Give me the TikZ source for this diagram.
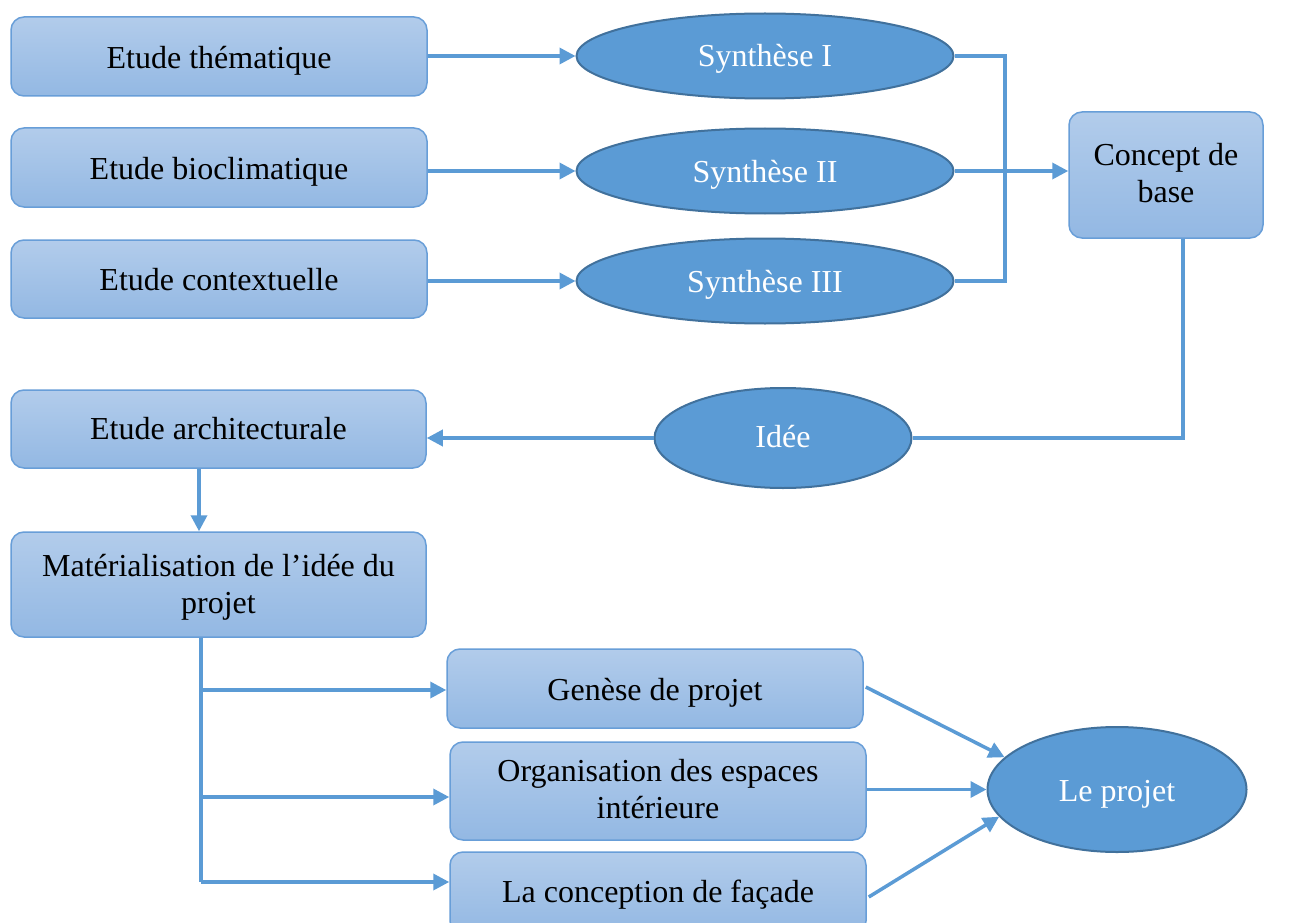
\documentclass[tikz,border=0pt]{standalone}
\usepackage{fontspec}
\setmainfont{Liberation Serif}
\usetikzlibrary{shapes.geometric,arrows.meta,calc}
\definecolor{boxtop}{RGB}{178,204,235}
\definecolor{boxbot}{RGB}{147,184,227}
\definecolor{boxline}{RGB}{104,158,216}
\definecolor{ellfill}{RGB}{91,155,213}
\definecolor{ellline}{RGB}{65,113,156}
\definecolor{conn}{RGB}{91,155,213}
\newcommand\Tx[2][4pt]{\raisebox{-#1}[\height][\depth]{\begin{tabular}{@{}c@{}}#2\end{tabular}}}
\tikzset{
  every node/.style={font=\fontsize{32}{37}\selectfont},
  rbox/.style={draw=boxline, line width=1.5pt, rounded corners=13pt, top color=boxtop, bottom color=boxbot, inner sep=0pt, text=black},
  ell/.style={ellipse, draw=ellline, line width=2pt, fill=ellfill, text=white, inner sep=0pt},
  conline/.style={draw=conn, line width=3.5pt},
  arr/.style={conline, -{Triangle[length=16pt,width=16pt]}},
}
\begin{document}
\begin{tikzpicture}[x=1pt,y=-1pt]
\clip (0,0) rectangle (1296,923);
\fill[white] (0,0) rectangle (1296,923);
% left column
\node[rbox, minimum width=416pt, minimum height=79pt] (b1) at (219,56.5) {\Tx[5pt]{Etude thématique}};
\node[rbox, minimum width=416pt, minimum height=79pt] (b2) at (219,167.5) {\Tx[5pt]{Etude bioclimatique}};
\node[rbox, minimum width=416pt, minimum height=78pt] (b3) at (219,279) {\Tx[4pt]{Etude contextuelle}};
% syntheses
\node[ell, minimum width=377pt, minimum height=85pt] (s1) at (765,56) {\Tx[3pt]{Synthèse I}};
\node[ell, minimum width=377pt, minimum height=85pt] (s2) at (765,171) {\Tx[4pt]{Synthèse II}};
\node[ell, minimum width=377pt, minimum height=85pt] (s3) at (765,281) {\Tx[4pt]{Synthèse III}};
% concept
\node[rbox, minimum width=194pt, minimum height=126pt] (con) at (1166,175) {\Tx[2pt]{Concept de\\base}};
% idee
\node[ell, minimum width=257pt, minimum height=100pt] (idee) at (783,438) {\Tx[2pt]{Idée}};
% architecture
\node[rbox, minimum width=415pt, minimum height=78pt] (arch) at (218.5,429) {\Tx[3pt]{Etude architecturale}};
\node[rbox, minimum width=415pt, minimum height=105pt] (mat) at (218.5,584.5) {\Tx[3pt]{Matérialisation de l’idée du\\projet}};
% sub boxes
\node[rbox, minimum width=416pt, minimum height=79pt] (gen) at (655,688.5) {\Tx[5pt]{Genèse de projet}};
\node[rbox, minimum width=416pt, minimum height=98pt] (org) at (658,791) {\Tx[2pt]{Organisation des espaces\\intérieure}};
\node[rbox, minimum width=416pt, minimum height=82pt] (fac) at (658,893) {\Tx[2pt]{La conception de façade}};
% projet
\node[ell, minimum width=259pt, minimum height=125pt] (proj) at (1117,789.5) {\Tx[5pt]{Le projet}};

% connectors top
\draw[arr] (b1.east |- s1.west) -- (s1.west);
\draw[arr] (b2.east |- s2.west) -- (s2.west);
\draw[arr] (b3.east |- s3.west) -- (s3.west);
\coordinate (j) at (1005,0);
\draw[conline] (s1.east) -- (s1.east -| j) -- (s3.east -| j) -- (s3.east);
\draw[arr] (s2.east) -- (con.west |- s2.east);
% concept to idee
\draw[conline] ([xshift=17pt]con.south) |- (idee.east);
\draw[arr] (idee.west) -- (arch.east |- idee.west);
% arch to mat
\draw[arr] ([xshift=-19.5pt]arch.south) -- ([xshift=-19.5pt]mat.north);
% mat branches
\coordinate (t1) at (201,690);
\coordinate (t2) at (201,797);
\coordinate (t3) at (201,882);
\draw[conline] ([xshift=-17.5pt]mat.south) -- (t3);
\draw[arr] (t1) -- (gen.west |- t1);
\draw[arr] (t2) -- (org.west |- t2);
\draw[arr] (t3) -- (fac.west |- t3);
% to projet
\draw[arr] ([xshift=2pt,yshift=1.5pt]gen.east) -- (proj.164);
\draw[arr] (org.east |- proj.west) -- (proj.west);
\draw[arr] ([xshift=2pt,yshift=-4pt]fac.east) -- (proj.193);
\end{tikzpicture}
\end{document}
